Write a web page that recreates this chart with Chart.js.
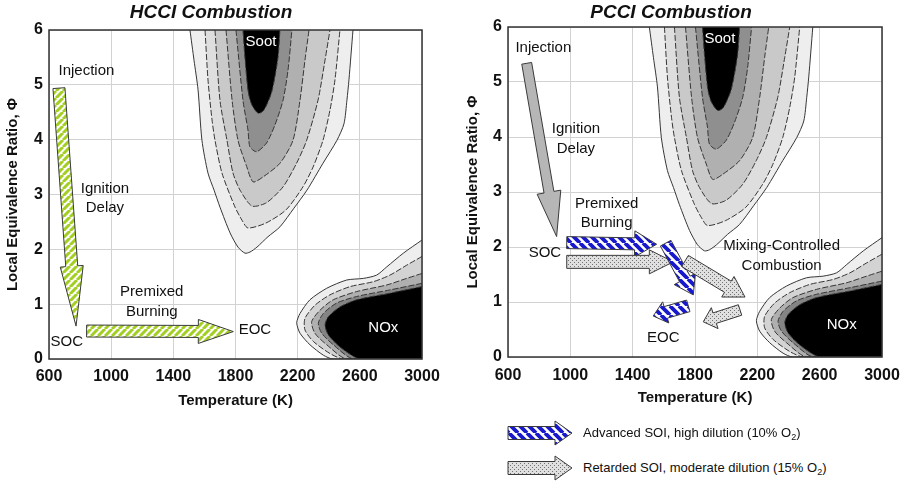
<!DOCTYPE html>
<html><head><meta charset="utf-8">
<script src="https://cdn.jsdelivr.net/npm/chart.js@4.4.1/dist/chart.umd.min.js"></script>
<style>
html,body{margin:0;padding:0;background:#fff;overflow:hidden;width:900px;height:491px;}
#wrap{position:relative;width:900px;height:491px;overflow:hidden;}
canvas{position:absolute;top:0;}
.lt{position:absolute;left:583px;font:13px "Liberation Sans",Arial,sans-serif;line-height:16px;color:#111;white-space:nowrap;}
.lt sub{font-size:9px;vertical-align:-3px;line-height:0;}
</style></head><body>
<div id="wrap">
<canvas id="hcci" width="464" height="415" style="left:0px"></canvas>
<canvas id="pcci" width="500" height="415" style="left:436px"></canvas>
<canvas id="legIcons" width="80" height="70" style="left:500px;top:415px"></canvas>
<div class="lt" style="top:425px">Advanced SOI, high dilution (10% O<sub>2</sub>)</div>
<div class="lt" style="top:460px">Retarded SOI, moderate dilution (15% O<sub>2</sub>)</div>
</div>
<script>
// ---------- data (Temperature K, local equivalence ratio) ----------
const tempTicks = [600, 1000, 1400, 1800, 2200, 2600, 3000];
const phiTicks = [0, 1, 2, 3, 4, 5, 6];

const soot1 = [[1507,6],[1533,5.45],[1559,4.91],[1584,3.99],[1623,3.39],[1662,3.08],[1700,2.77],[1765,2.30],[1816,2.04],[1861,1.93],[1893,1.95],[1938,2.04],[2009,2.23],[2086,2.41],[2176,2.75],[2260,3.08],[2363,3.57],[2453,3.99],[2498,4.29],[2517,4.72],[2530,5.09],[2556,6]];
const soot2 = [[1604,6],[1623,5.09],[1649,4.36],[1668,3.99],[1713,3.39],[1797,2.77],[1842,2.53],[1880,2.39],[1996,2.48],[2125,2.72],[2234,3.14],[2299,3.50],[2363,3.99],[2408,4.54],[2440,5.09],[2472,6]];
const soot3 = [[1668,6],[1700,4.72],[1745,3.99],[1784,3.39],[1829,3.08],[1906,2.79],[1999,2.85],[2106,3.14],[2193,3.57],[2258,3.99],[2331,4.72],[2376,5.45],[2408,6]];
const soot4 = [[1739,6],[1778,4.72],[1816,3.99],[1872,3.51],[1913,3.23],[1977,3.32],[2086,3.57],[2170,3.99],[2215,4.72],[2247,5.45],[2273,6]];
const soot5 = [[1803,6],[1848,4.72],[1880,4.18],[1893,3.87],[1936,3.78],[2000,3.94],[2054,4.27],[2106,4.72],[2138,5.27],[2163,6]];
const soot6 = [[1848,6],[1861,5.49],[1882,4.87],[1906,4.63],[1947,4.48],[1983,4.54],[2033,4.87],[2073,5.49],[2086,6]];

const nox1 = [[3000,2.17],[2880,1.93],[2773,1.68],[2708,1.53],[2622,1.47],[2515,1.44],[2387,1.29],[2279,1.08],[2215,0.83],[2194,0.66],[2215,0.47],[2279,0.26],[2365,0.07],[2427,0],[3000,0]];
const nox2 = [[3000,1.87],[2901,1.71],[2794,1.53],[2687,1.41],[2537,1.32],[2408,1.17],[2311,0.98],[2247,0.74],[2247,0.53],[2301,0.32],[2408,0.10],[2494,0],[3000,0]];
const nox3 = [[3000,1.56],[2901,1.47],[2773,1.35],[2580,1.23],[2429,1.08],[2344,0.89],[2290,0.68],[2311,0.47],[2387,0.26],[2515,0],[3000,0]];
const nox4 = [[3000,1.38],[2794,1.26],[2580,1.14],[2451,1.02],[2365,0.83],[2333,0.65],[2355,0.47],[2429,0.26],[2558,0],[3000,0]];
const nox5 = [[3000,1.32],[2794,1.20],[2580,1.08],[2472,0.95],[2397,0.77],[2376,0.62],[2397,0.44],[2472,0.22],[2601,0],[3000,0]];

// process paths: [tail, tip]
const hcciInjectionPath = [[664,4.94],[774,0.60]];
const hcciPremixedPath  = [[842,0.51],[1786,0.50]];
const pcciInjectionPath = [[720,5.34],[912,2.19]];
const advPremixedPath   = [[977,2.08],[1554,2.05]];
const advMixingPath     = [[1612,2.07],[1789,1.13]];
const advEndPath        = [[1757,0.93],[1532,0.745]];
const retPremixedPath   = [[977,1.73],[1661,1.73]];
const retMixingPath     = [[1736,1.745],[2121,1.09]];
const retEndPath        = [[2089,0.855],[1853,0.64]];

const hcciLabels  = ['Injection','Ignition','Delay','Premixed','Burning','SOC','EOC','Soot','NOx'];
const hcciLabelAt = [[841,5.26],[960,3.11],[960,2.75],[1261,1.23],[1261,0.86],[714,0.32],[1925,0.53],[1964,5.79],[2751,0.56]];
const pcciLabels  = ['Injection','Ignition','Delay','Premixed','Burning','SOC','EOC','Mixing-Controlled','Combustion','Soot','NOx'];
const pcciLabelAt = [[827,5.62],[1036,4.15],[1036,3.78],[1233,2.79],[1233,2.44],[837,1.89],[1597,0.34],[2356,2.02],[2356,1.66],[1960,5.78],[2741,0.58]];

// ---------- styles ----------
const FONT = '"Liberation Sans", Arial, sans-serif';
Chart.defaults.font.family = FONT;
Chart.defaults.color = '#111';

function stripePattern(color, period, lw, dir) {
  const c = document.createElement('canvas'); c.width = c.height = period;
  const g = c.getContext('2d');
  g.fillStyle = '#fff'; g.fillRect(0, 0, period, period);
  g.strokeStyle = color; g.lineWidth = lw; g.beginPath();
  for (let k = -1; k <= 1; k++) {
    if (dir > 0) { g.moveTo(k * period, period); g.lineTo(k * period + period, 0); }
    else { g.moveTo(k * period, 0); g.lineTo(k * period + period, period); }
  }
  g.stroke();
  return g.createPattern(c, 'repeat');
}
function dotPattern() {
  const c = document.createElement('canvas'); c.width = c.height = 4;
  const g = c.getContext('2d');
  g.fillStyle = '#e0e0e0'; g.fillRect(0, 0, 4, 4);
  g.fillStyle = '#727272'; g.fillRect(0, 0, 1, 1); g.fillRect(2, 2, 1, 1);
  return g.createPattern(c, 'repeat');
}
const greenHatch = stripePattern('#a2cf22', 7, 3, 1);
const blueHatch = stripePattern('#1818cc', 9, 3.8, -1);
const dots = dotPattern();
const grayFill = '#b6b6b6';

function arrowPoly(ctx, x0, y0, x1, y1, st) {
  const dx = x1 - x0, dy = y1 - y0, L = Math.hypot(dx, dy);
  const ux = dx / L, uy = dy / L, nx = -uy, ny = ux;
  const bx = x1 - ux * st.head, by = y1 - uy * st.head;
  const s = st.shaft / 2, h = st.headW / 2;
  ctx.beginPath();
  ctx.moveTo(x0 + nx * s, y0 + ny * s);
  ctx.lineTo(bx + nx * s, by + ny * s);
  ctx.lineTo(bx + nx * h, by + ny * h);
  ctx.lineTo(x1, y1);
  ctx.lineTo(bx - nx * h, by - ny * h);
  ctx.lineTo(bx - nx * s, by - ny * s);
  ctx.lineTo(x0 - nx * s, y0 - ny * s);
  ctx.closePath();
  ctx.fillStyle = st.fill; ctx.fill();
  ctx.strokeStyle = '#3a3a3a'; ctx.lineWidth = 1; ctx.stroke();
}

const contourFill = {
  id: 'contourFill',
  beforeDatasetsDraw(chart) {
    const ctx = chart.ctx, a = chart.chartArea;
    ctx.save();
    ctx.beginPath(); ctx.rect(a.left, a.top, a.right - a.left, a.bottom - a.top); ctx.clip();
    chart.data.datasets.forEach((ds, i) => {
      const pts = chart.getDatasetMeta(i).data;
      if (!pts.length) return;
      ctx.beginPath();
      ctx.moveTo(pts[0].x, pts[0].y);
      for (let j = 1; j < pts.length; j++) {
        const p = pts[j - 1], q = pts[j];
        if (p.cp2x !== undefined && q.cp1x !== undefined) ctx.bezierCurveTo(p.cp2x, p.cp2y, q.cp1x, q.cp1y, q.x, q.y);
        else ctx.lineTo(q.x, q.y);
      }
      ctx.closePath();
      ctx.fillStyle = ds.areaColor;
      ctx.fill();
    });
    ctx.restore();
  }
};

function overlay(arrows, labels, labelAt) {
  return {
    id: 'overlay',
    afterDatasetsDraw(chart) {
      const ctx = chart.ctx, xs = chart.scales.x, ys = chart.scales.y, a = chart.chartArea;
      ctx.save();
      arrows.forEach(ar => {
        arrowPoly(ctx, xs.getPixelForValue(ar.path[0][0]), ys.getPixelForValue(ar.path[0][1]),
          xs.getPixelForValue(ar.path[1][0]), ys.getPixelForValue(ar.path[1][1]), ar.style);
      });
      ctx.font = '15px ' + FONT;
      ctx.textAlign = 'center'; ctx.textBaseline = 'middle';
      labels.forEach((t, i) => {
        ctx.fillStyle = (t === 'Soot' || t === 'NOx') ? '#fff' : '#111';
        ctx.fillText(t, xs.getPixelForValue(labelAt[i][0]), ys.getPixelForValue(labelAt[i][1]));
      });
      ctx.strokeStyle = '#333'; ctx.lineWidth = 1.5;
      ctx.strokeRect(a.left, a.top, a.right - a.left, a.bottom - a.top);
      ctx.restore();
    }
  };
}

const sootColors = ['#eeeeee', '#dedede', '#c9c9c9', '#b0b0b0', '#8f8f8f', '#000'];
const noxColors = ['#eeeeee', '#d3d3d3', '#afafaf', '#848484', '#000'];

function contourSets() {
  const sets = [];
  [soot1, soot2, soot3, soot4, soot5, soot6].forEach((d, i) => sets.push({
    data: d, areaColor: sootColors[i], showLine: true, tension: 0.25, pointRadius: 0,
    borderColor: '#363636', borderWidth: 1, borderDash: i === 0 ? [] : [6, 2]
  }));
  [nox1, nox2, nox3, nox4, nox5].forEach((d, i) => sets.push({
    data: d, areaColor: noxColors[i], showLine: true, tension: 0.25, pointRadius: 0,
    borderColor: '#363636', borderWidth: 1, borderDash: i === 0 ? [] : [6, 2]
  }));
  return sets;
}

function makeChart(id, title, L, arrows, labels, labelAt) {
  return new Chart(document.getElementById(id), {
    type: 'scatter',
    data: { datasets: contourSets() },
    plugins: [contourFill, overlay(arrows, labels, labelAt)],
    options: {
      responsive: false, animation: false, events: [],
      layout: { padding: { left: L.padL, right: L.padR, top: 0, bottom: 0 } },
      plugins: {
        legend: { display: false }, tooltip: { enabled: false },
        title: { display: true, text: title, color: '#111',
          font: { size: 19, weight: 'bold', style: 'italic' },
          padding: { top: L.tTop, bottom: L.tBot } }
      },
      scales: {
        x: {
          type: 'linear', min: 600, max: 3000,
          afterBuildTicks: s => { s.ticks = tempTicks.map(v => ({ value: v })); },
          afterFit: s => { s.height = L.xH; },
          grid: { color: '#d2d2d2', drawTicks: false },
          border: { display: false },
          ticks: { padding: L.xTickPad, font: { size: 16, weight: 'bold' }, color: '#111', callback: v => String(v) },
          title: { display: true, text: 'Temperature (K)', color: '#111', font: { size: 15, weight: 'bold' }, padding: { top: 0, bottom: L.xTitlePad } }
        },
        y: {
          type: 'linear', min: 0, max: 6,
          afterBuildTicks: s => { s.ticks = phiTicks.map(v => ({ value: v })); },
          afterFit: s => { s.width = L.yW; },
          grid: { color: '#d2d2d2', drawTicks: false },
          border: { display: false },
          ticks: { padding: 6, font: { size: 16, weight: 'bold' }, color: '#111', callback: v => String(v) },
          title: { display: true, text: 'Local Equivalence Ratio, Φ', color: '#111', font: { size: 15, weight: 'bold' }, padding: { top: 3.5, bottom: 0 } }
        }
      }
    }
  });
}

makeChart('hcci', 'HCCI Combustion',
  { padL: 0, padR: 42, tTop: 1.3, tBot: 5.9, xH: 56, xTickPad: 8, xTitlePad: 5, yW: 49 },
  [
    { path: hcciInjectionPath, style: { shaft: 12, headW: 23, head: 60, fill: greenHatch } },
    { path: hcciPremixedPath, style: { shaft: 12, headW: 24, head: 35, fill: greenHatch } }
  ], hcciLabels, hcciLabelAt);

makeChart('pcci', 'PCCI Combustion',
  { padL: 24, padR: 54, tTop: 1.6, tBot: 2.6, xH: 58, xTickPad: 9, xTitlePad: 8, yW: 48 },
  [
    { path: pcciInjectionPath, style: { shaft: 10, headW: 24, head: 45, fill: grayFill } },
    { path: advPremixedPath, style: { shaft: 12, headW: 26, head: 22, fill: blueHatch } },
    { path: retPremixedPath, style: { shaft: 13, headW: 24, head: 24, fill: dots } },
    { path: advMixingPath, style: { shaft: 12, headW: 24, head: 18, fill: blueHatch } },
    { path: retMixingPath, style: { shaft: 13, headW: 24, head: 20, fill: dots } },
    { path: advEndPath, style: { shaft: 12, headW: 22, head: 13, fill: blueHatch } },
    { path: retEndPath, style: { shaft: 11, headW: 22, head: 12, fill: dots } }
  ], pcciLabels, pcciLabelAt);

// legend icons
(function () {
  const ctx = document.getElementById('legIcons').getContext('2d');
  arrowPoly(ctx, 8, 18, 72, 18, { shaft: 13, headW: 24, head: 17, fill: blueHatch });
  arrowPoly(ctx, 8, 53, 72, 53, { shaft: 13, headW: 24, head: 17, fill: dots });
})();
</script>
</body></html>
